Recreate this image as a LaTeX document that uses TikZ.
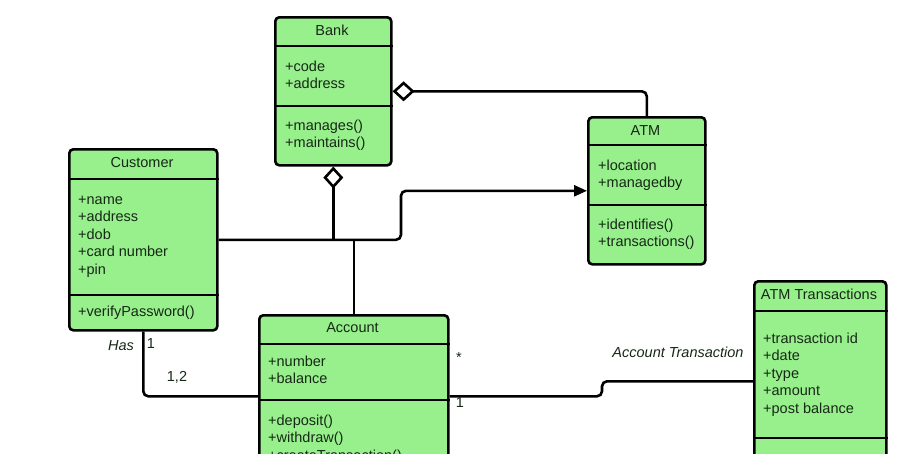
\documentclass[tikz,border=0pt]{standalone}
\usepackage{fontspec}
\setmainfont{Liberation Sans}
\usetikzlibrary{arrows.meta}
\definecolor{boxgreen}{RGB}{152,240,140}
\definecolor{txt}{RGB}{22,40,22}
\newcommand\myfs{\fontsize{14.5}{17.6}\selectfont}
\tikzset{
  cls/.style={draw=black, line width=2.6pt, fill=boxgreen, rounded corners=4pt, inner sep=0pt, anchor=north west},
  divl/.style={line width=2.6pt},
  ttl/.style={font=\myfs, text=txt, inner sep=0pt, anchor=base},
  lst/.style={font=\myfs, text=txt, align=left, inner sep=0pt, anchor=base west},
  conn/.style={line width=2.6pt, rounded corners=5pt},
  agg/.style={conn, -{Diamond[open, length=22pt, width=20pt, fill=white, line width=2.6pt]}},
  nav/.style={conn, -{Triangle[length=13pt, width=11pt]}},
  lbl/.style={font=\myfs, text=txt, inner sep=0pt},
}
\begin{document}
\begin{tikzpicture}[x=1pt, y=-1pt]
\useasboundingbox (0,0) rectangle (915,453);
% Bank
\node[cls, minimum width=116pt, minimum height=148pt] (bank) at (274,16) {};
\draw[divl] (bank.west |- 0,46) -- (bank.east |- 0,46);
\draw[divl] (bank.west |- 0,106) -- (bank.east |- 0,106);
\node[ttl] (bankT) at (332,35.5) {Bank};
\node[lst] (bankA) at (285,88.6) {+code\\+address};
\node[lst] (bankM) at (285,147.6) {+manages()\\+maintains()};
% Customer
\node[cls, minimum width=148pt, minimum height=181pt] (customer) at (68,148) {};
\draw[divl] (customer.west |- 0,179) -- (customer.east |- 0,179);
\draw[divl] (customer.west |- 0,295) -- (customer.east |- 0,295);
\node[ttl] (custT) at (142,167) {Customer};
\node[lst] (custA) at (78,274.4) {+name\\+address\\+dob\\+card number\\+pin};
\node[lst] (custM) at (78,316) {+verifyPassword()};
% ATM
\node[cls, minimum width=117pt, minimum height=147pt] (atm) at (587,116) {};
\draw[divl] (atm.west |- 0,145) -- (atm.east |- 0,145);
\draw[divl] (atm.west |- 0,205) -- (atm.east |- 0,205);
\node[ttl] (atmT) at (645.5,135) {ATM};
\node[lst] (atmA) at (598,187.6) {+location\\+managedby};
\node[lst] (atmM) at (598,246.6) {+identifies()\\+transactions()};
% Account
\node[cls, minimum width=189pt, minimum height=162pt] (account) at (258,314) {};
\draw[divl] (account.west |- 0,344) -- (account.east |- 0,344);
\draw[divl] (account.west |- 0,400) -- (account.east |- 0,400);
\node[ttl] (accT) at (352.5,332) {Account};
\node[lst] (accA) at (268,383.6) {+number\\+balance};
\node[lst] (accM) at (268,460.2) {+deposit()\\+withdraw()\\+createTransaction()};
% ATM Transactions
\node[cls, minimum width=132pt, minimum height=200pt] (atmt) at (753,280) {};
\draw[divl] (atmt.west |- 0,311) -- (atmt.east |- 0,311);
\draw[divl] (atmt.west |- 0,438) -- (atmt.east |- 0,438);
\node[ttl] (atmtT) at (819,299) {ATM Transactions};
\node[lst] (atmtA) at (763,413.4) {+transaction id\\+date\\+type\\+amount\\+post balance};
% connectors
\draw[agg] (atm.north) |- (bank.east);
\coordinate (kx) at (401,0);
\draw[nav] (customer.east) -| (kx |- atm.west) -- (atm.west);
\draw[agg] (bank.south |- customer.east) -- (bank.south);
\draw[conn] (account.north) -- (account.north |- customer.east);
\draw[conn] (customer.south) |- (account.west);
\coordinate (sx) at (602,0);
\draw[conn] (account.east) -| (sx |- atmt.west) -- (atmt.west);
% labels
\node[lbl, font=\myfs\itshape] (has) at (121,346) {Has};
\node[lbl] (m1) at (151,344) {1};
\node[lbl] (m12) at (177,377) {1,2};
\node[lbl] (mstar) at (459,358) {*};
\node[lbl] (m1b) at (460,403) {1};
\node[lbl, font=\myfs\itshape] (at) at (678,352) {Account Transaction};
\end{tikzpicture}
\end{document}
